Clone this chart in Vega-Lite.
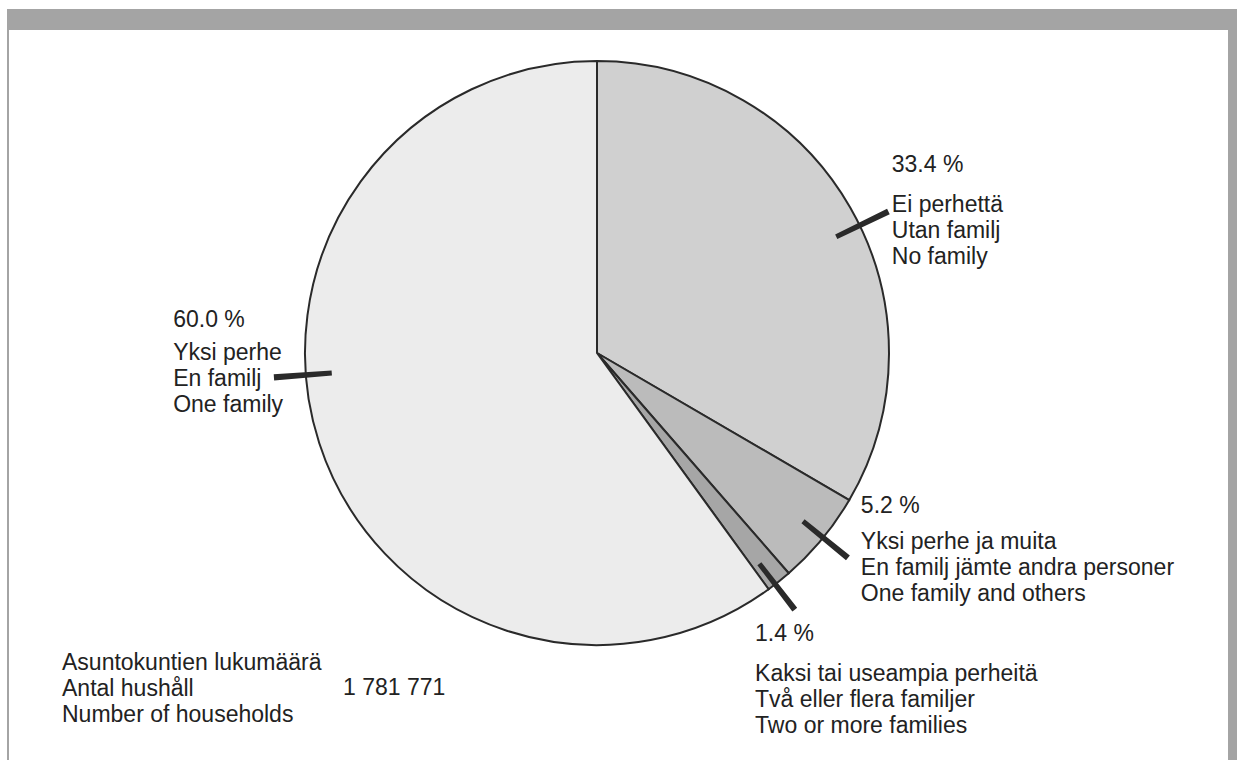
{
  "$schema": "https://vega.github.io/schema/vega-lite/v6.json",
  "background": "#ffffff",
  "padding": {"left": 7, "top": 9, "right": 0, "bottom": 0},
  "spacing": 0,
  "config": {
    "view": {"stroke": null},
    "concat": {"spacing": 0},
    "text": {"font": "Liberation Sans", "fontSize": 23, "fill": "#222222"}
  },
  "datasets": {
    "slices": [
      {"group": "No family", "rank": 1, "share": 33.4, "pct": "33.4 %", "name": ["Ei perhettä", "Utan familj", "No family"]},
      {"group": "One family and others", "rank": 2, "share": 5.2, "pct": "5.2 %", "name": ["Yksi perhe ja muita", "En familj jämte andra personer", "One family and others"]},
      {"group": "Two or more families", "rank": 3, "share": 1.4, "pct": "1.4 %", "name": ["Kaksi tai useampia perheitä", "Två eller flera familjer", "Two or more families"]},
      {"group": "One family", "rank": 4, "share": 60.0, "pct": "60.0 %", "name": ["Yksi perhe", "En familj", "One family"]}
    ],
    "leaders": [
      {"group": "No family", "from": 17.65, "to": 17.95},
      {"group": "One family and others", "from": 35.75, "to": 36.05},
      {"group": "Two or more families", "from": 39.4, "to": 39.7},
      {"group": "One family", "from": 73.65, "to": 73.95}
    ],
    "total": [
      {"caption": ["Asuntokuntien lukumäärä", "Antal hushåll", "Number of households"], "households": "1 781 771"}
    ]
  },
  "hconcat": [
    {
      "width": 2, "height": 751,
      "view": {"fill": "#a4a4a4", "stroke": null},
      "data": {"values": [{"k": 1}]},
      "mark": {"type": "point", "opacity": 0, "size": 0},
      "encoding": {}
    },
    {
      "spacing": 0,
      "vconcat": [
        {
          "width": 1219, "height": 21,
          "view": {"fill": "#a4a4a4", "stroke": null},
          "data": {"values": [{"k": 1}]},
          "mark": {"type": "point", "opacity": 0, "size": 0},
          "encoding": {}
        },
        {
          "width": 1176, "height": 646,
          "data": {"name": "slices"},
          "layer": [
            {
              "mark": {"type": "arc", "outerRadius": 292, "stroke": "#2a2a2a", "strokeWidth": 2},
              "encoding": {
                "theta": {"field": "share", "type": "quantitative", "stack": true, "scale": {"domain": [0, 100]}},
                "order": {"field": "rank", "type": "quantitative"},
                "color": {
                  "field": "group", "type": "nominal", "legend": null,
                  "scale": {
                    "domain": ["No family", "One family and others", "Two or more families", "One family"],
                    "range": ["#d0d0d0", "#bbbbbb", "#a6a6a6", "#ececec"]
                  }
                }
              }
            },
            {
              "data": {"name": "leaders"},
              "mark": {"type": "arc", "innerRadius": 266, "outerRadius": 324, "color": "#2a2a2a"},
              "encoding": {
                "theta": {"field": "from", "type": "quantitative", "stack": null},
                "theta2": {"field": "to"}
              }
            },
            {
              "mark": {"type": "text", "radius": 310, "align": "left", "baseline": "middle", "dx": 26, "dy": -34},
              "encoding": {
                "theta": {"field": "share", "type": "quantitative", "stack": true},
                "order": {"field": "rank", "type": "quantitative"},
                "detail": {"field": "group", "type": "nominal"},
                "text": {"condition": {"test": "datum.group === 'No family'", "field": "pct", "type": "nominal"}, "value": ""}
              }
            },
            {
              "mark": {"type": "text", "radius": 310, "align": "left", "baseline": "middle", "lineHeight": 26, "dx": 26, "dy": 6},
              "encoding": {
                "theta": {"field": "share", "type": "quantitative", "stack": true},
                "order": {"field": "rank", "type": "quantitative"},
                "detail": {"field": "group", "type": "nominal"},
                "text": {"condition": {"test": "datum.group === 'No family'", "field": "name", "type": "nominal"}, "value": ""}
              }
            },
            {
              "mark": {"type": "text", "radius": 310, "align": "left", "baseline": "middle", "dx": 25, "dy": -45},
              "encoding": {
                "theta": {"field": "share", "type": "quantitative", "stack": true},
                "order": {"field": "rank", "type": "quantitative"},
                "detail": {"field": "group", "type": "nominal"},
                "text": {"condition": {"test": "datum.group === 'One family and others'", "field": "pct", "type": "nominal"}, "value": ""}
              }
            },
            {
              "mark": {"type": "text", "radius": 310, "align": "left", "baseline": "middle", "lineHeight": 26, "dx": 25, "dy": -9},
              "encoding": {
                "theta": {"field": "share", "type": "quantitative", "stack": true},
                "order": {"field": "rank", "type": "quantitative"},
                "detail": {"field": "group", "type": "nominal"},
                "text": {"condition": {"test": "datum.group === 'One family and others'", "field": "name", "type": "nominal"}, "value": ""}
              }
            },
            {
              "mark": {"type": "text", "radius": 310, "align": "left", "baseline": "middle", "dx": -35, "dy": 38},
              "encoding": {
                "theta": {"field": "share", "type": "quantitative", "stack": true},
                "order": {"field": "rank", "type": "quantitative"},
                "detail": {"field": "group", "type": "nominal"},
                "text": {"condition": {"test": "datum.group === 'Two or more families'", "field": "pct", "type": "nominal"}, "value": ""}
              }
            },
            {
              "mark": {"type": "text", "radius": 310, "align": "left", "baseline": "middle", "lineHeight": 26, "dx": -35, "dy": 78},
              "encoding": {
                "theta": {"field": "share", "type": "quantitative", "stack": true},
                "order": {"field": "rank", "type": "quantitative"},
                "detail": {"field": "group", "type": "nominal"},
                "text": {"condition": {"test": "datum.group === 'Two or more families'", "field": "name", "type": "nominal"}, "value": ""}
              }
            },
            {
              "mark": {"type": "text", "radius": 310, "align": "left", "baseline": "middle", "dx": -129, "dy": -129},
              "encoding": {
                "theta": {"field": "share", "type": "quantitative", "stack": true},
                "order": {"field": "rank", "type": "quantitative"},
                "detail": {"field": "group", "type": "nominal"},
                "text": {"condition": {"test": "datum.group === 'One family'", "field": "pct", "type": "nominal"}, "value": ""}
              }
            },
            {
              "mark": {"type": "text", "radius": 310, "align": "left", "baseline": "middle", "lineHeight": 26, "dx": -129, "dy": -96},
              "encoding": {
                "theta": {"field": "share", "type": "quantitative", "stack": true},
                "order": {"field": "rank", "type": "quantitative"},
                "detail": {"field": "group", "type": "nominal"},
                "text": {"condition": {"test": "datum.group === 'One family'", "field": "name", "type": "nominal"}, "value": ""}
              }
            },
            {
              "data": {"name": "total"},
              "mark": {"type": "text", "align": "left", "baseline": "middle", "lineHeight": 26, "dx": -535, "dy": 310},
              "encoding": {"text": {"field": "caption", "type": "nominal"}}
            },
            {
              "data": {"name": "total"},
              "mark": {"type": "text", "align": "left", "baseline": "middle", "dx": -254, "dy": 335},
              "encoding": {"text": {"field": "households", "type": "nominal"}}
            }
          ]
        }
      ]
    },
    {
      "width": 9, "height": 751,
      "view": {"fill": "#a4a4a4", "stroke": null},
      "data": {"values": [{"k": 1}]},
      "mark": {"type": "point", "opacity": 0, "size": 0},
      "encoding": {}
    }
  ]
}
